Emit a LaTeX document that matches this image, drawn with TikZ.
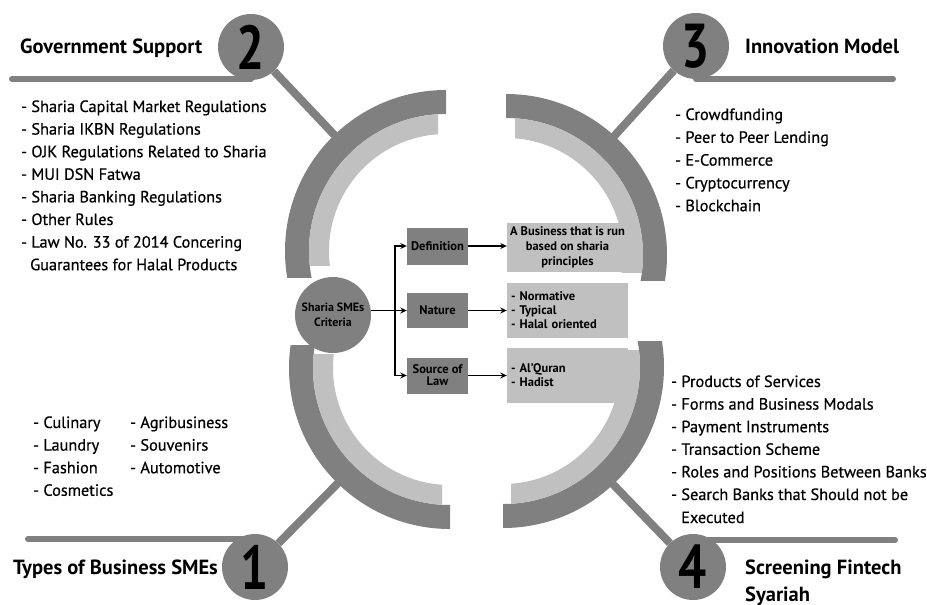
\documentclass[tikz,border=0pt]{standalone}
\usepackage{fontspec}
\usepackage{graphicx}
\setmainfont{PT Sans}
\usetikzlibrary{arrows.meta}
\definecolor{darkg}{RGB}{128,128,128}
\definecolor{lightg}{RGB}{192,192,192}
\newcommand\dig[1]{\scalebox{0.8}[1]{\fontsize{62}{62}\selectfont\bfseries #1}}
\begin{document}
\begin{tikzpicture}[x=1pt,y=-1pt,
  numc/.style={circle,fill=darkg,minimum size=66pt,inner sep=0pt,text=black},
  hl/.style={draw=darkg,line width=6pt,line cap=round},
  dl/.style={draw=darkg,line width=8pt},
  head/.style={anchor=base west,inner sep=0pt,font=\fontsize{20.5}{24}\selectfont\bfseries},
  lst/.style={anchor=base west,inner sep=0pt,font=\fontsize{16.3}{20}\selectfont\addfontfeature{FakeBold=0.6}},
  dbox/.style={fill=darkg,minimum width=61pt,inner sep=1pt,align=center,font=\fontsize{12.5}{12.5}\selectfont\bfseries},
  lbox/.style={fill=lightg,minimum width=121pt,inner sep=0pt,font=\fontsize{12.5}{15}\selectfont\bfseries},
  crit/.style={circle,fill=darkg,minimum size=76pt,inner sep=0pt,align=center,font=\fontsize{12}{15}\selectfont\bfseries},
  arr/.style={draw=black,line width=1.4pt,-{Stealth[length=6.5pt,width=6pt]}}]
\useasboundingbox (0,0) rectangle (927,605);

% ring segments
\begin{scope}\clip (0,0) rectangle (446,277);
  \fill[darkg,even odd rule] (446,251) circle[radius=161pt] circle[radius=137pt];\end{scope}
\begin{scope}\clip (0,0) rectangle (438,265);
  \fill[lightg,even odd rule] (446,251) circle[radius=137pt] circle[radius=117pt];\end{scope}
\begin{scope}\clip (506,0) rectangle (927,280);
  \fill[darkg,even odd rule] (506,255) circle[radius=161pt] circle[radius=137pt];\end{scope}
\begin{scope}\clip (515,0) rectangle (927,272);
  \fill[lightg,even odd rule] (506,255) circle[radius=137pt] circle[radius=117pt];\end{scope}
\begin{scope}\clip (0,345) rectangle (450,605);
  \fill[darkg,even odd rule] (450,368) circle[radius=161pt] circle[radius=137pt];\end{scope}
\begin{scope}\clip (0,354) rectangle (442,605);
  \fill[lightg,even odd rule] (450,368) circle[radius=137pt] circle[radius=117pt];\end{scope}
\begin{scope}\clip (503,341) rectangle (927,605);
  \fill[darkg,even odd rule] (503,367) circle[radius=161pt] circle[radius=137pt];\end{scope}
\begin{scope}\clip (511,350) rectangle (927,605);
  \fill[lightg,even odd rule] (503,367) circle[radius=137pt] circle[radius=117pt];\end{scope}

% number circles
\node[numc] (n2) at (251,47) {\dig{2}};
\node[numc] (n3) at (696,46) {\dig{3}};
\node[numc] (n1) at (255,567) {\dig{1}};
\node[numc] (n4) at (693,567) {\dig{4}};

% ring anchor points and line ends
\coordinate (a2) at (342,143);
\coordinate (a3) at (607,144);
\coordinate (a1) at (345,476);
\coordinate (a4) at (605,476);
\coordinate (h2) at (12,79);
\coordinate (h3) at (893,79);
\coordinate (h1) at (28,539);
\coordinate (h4) at (895,540);

\draw[dl] (n2) -- (a2);
\draw[dl] (n3) -- (a3);
\draw[dl] (n1) -- (a1);
\draw[dl] (n4) -- (a4);
\draw[hl] (h2) -- (h2 -| n2);
\draw[hl] (h3) -- (h3 -| n3);
\draw[hl] (h1) -- (h1 -| n1);
\draw[hl] (h4) -- (h4 -| n4);

% headings
\node[head] (t2) at (20,53) {Government Support};
\node[head] (t3) at (745,53) {Innovation Model};
\node[head] (t1) at (13,574) {Types of Business SMEs};
\node[head] (t4a) at (745,574) {Screening Fintech};
\node[head] (t4b) at (745,601) {Syariah};

% lists
\foreach \t [count=\i] in {- Sharia Capital Market Regulations,- Sharia IKBN Regulations,- OJK Regulations Related to Sharia,- MUI DSN Fatwa,- Sharia Banking Regulations,- Other Rules,- Law No. 33 of 2014 Concering}
  \node[lst] (g\i) at (21,{112+22.6*(\i-1)}) {\t};
\node[lst] (g8) at (30,270.2) {Guarantees for Halal Products};

\foreach \t [count=\i] in {- Crowdfunding,- Peer to Peer Lending,- E-Commerce,- Cryptocurrency,- Blockchain}
  \node[lst] (m\i) at (675,{120+22.8*(\i-1)}) {\t};

\foreach \t [count=\i] in {- Culinary,- Laundry,- Fashion,- Cosmetics}
  \node[lst] (b\i) at (33,{428+22.6*(\i-1)}) {\t};
\foreach \t [count=\i] in {- Agribusiness,- Souvenirs,- Automotive}
  \node[lst] (c\i) at (130,{428+22.6*(\i-1)}) {\t};

\foreach \t [count=\i] in {- Products of Services,- Forms and Business Modals,- Payment Instruments,- Transaction Scheme,- Roles and Positions Between Banks,- Search Banks that Should not be}
  \node[lst] (s\i) at (671,{387+22.6*(\i-1)}) {\t};
\node[lst] (s7) at (681,523) {Executed};

% centre diagram
\node[crit] (crit) at (333,315) {Sharia SMEs\\Criteria};
\node[dbox,minimum height=37pt] (def) at (437.5,246) {Definition};
\node[dbox,minimum height=35pt] (nat) at (437.5,310.5) {Nature};
\node[dbox,minimum height=36pt,font=\fontsize{12.5}{12}\selectfont\bfseries] (src) at (437.5,375.5) {Source of\\Law};
\node[lbox,minimum height=49pt,align=center] (deft) at (567.5,247.5) {A Business that is run\\based on sharia\\principles};
\node[lbox,minimum height=55pt,text width=113pt,inner xsep=4pt,align=left,font=\fontsize{12.5}{14}\selectfont\bfseries] (natt) at (567.5,310.5) {- Normative\\- Typical\\- Halal oriented};
\node[lbox,minimum height=55pt,text width=113pt,inner xsep=4pt,align=left,font=\fontsize{12.5}{14}\selectfont\bfseries] (srct) at (567.5,375.5) {- Al’Quran\\- Hadist};

\coordinate (br) at (395,310.5);
\draw[arr] (crit.east |- nat.west) -- (nat.west);
\draw[arr] (br) |- (def.west);
\draw[arr] (br) |- (src.west);
\draw[arr] (def.east) -- (def.east -| deft.west);
\draw[arr] (nat.east) -- (nat.east -| natt.west);
\draw[arr] (src.east) -- (src.east -| srct.west);
\end{tikzpicture}
\end{document}
